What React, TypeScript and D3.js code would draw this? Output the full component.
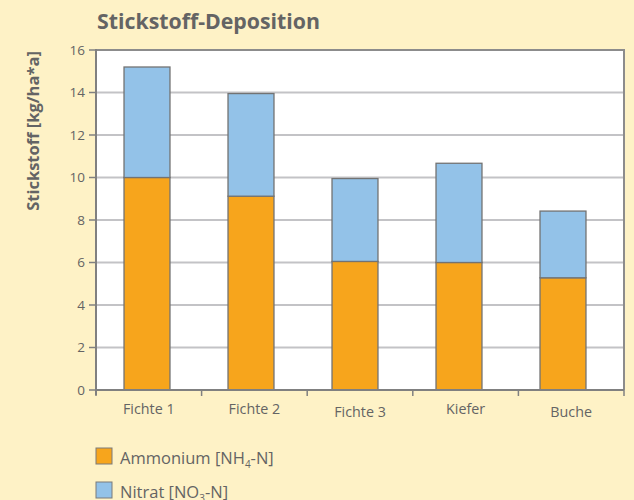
import React from "react";
import * as d3 from "d3";

const categories = ["Fichte 1", "Fichte 2", "Fichte 3", "Kiefer", "Buche"];
const ammonium = [10.0, 9.12, 6.05, 6.0, 5.28];
const nitrat = [5.2, 4.83, 3.9, 4.67, 3.14];
const yTicks = [0, 2, 4, 6, 8, 10, 12, 14, 16];
const labelDy = [0, 0, 3, 0, 3];

const W = 634;
const H = 500;
const BG = "#FEF2C6";
const TEXT = "#646464";
const ORANGE = "#F7A51C";
const BLUE = "#93C2E8";
const FONT = "'Open Sans', 'DejaVu Sans', sans-serif";

export default function App() {
  const left = 96, right = 624, top = 50, bottom = 390;
  const y = d3.scaleLinear().domain([0, 16]).range([bottom, top]);
  const xAxis = d3.scaleBand().domain(categories).range([left, right]).padding(0);
  const xBars = d3.scaleBand().domain(categories).range([95, 615]).paddingInner(0.558).paddingOuter(0.279);

  const stackData = categories.map((c, i) => ({ cat: c, ammonium: ammonium[i], nitrat: nitrat[i] }));
  const stack = d3.stack<any>().keys(["ammonium", "nitrat"])(stackData);
  const colors: Record<string, string> = { ammonium: ORANGE, nitrat: BLUE };

  const ticksX = [...categories.map((c) => xAxis(c)!), right];

  return (
    <svg width={W} height={H} style={{ position: "absolute", left: 0, top: 0, display: "block" }} fontFamily={FONT}>
      <rect x={0} y={0} width={W} height={H} fill={BG} />
      <text x={97} y={29} fontSize={21.3} fontWeight="bold" fill={TEXT}>Stickstoff-Deposition</text>
      <rect x={left} y={top} width={right - left} height={bottom - top} fill="#fff" />
      {yTicks.filter((t) => t > 0 && t < 16).map((t) => (
        <line key={t} x1={left} x2={right} y1={y(t)} y2={y(t)} stroke="#C3C3C6" strokeWidth={2} />
      ))}
      {/* borders */}
      <line x1={left} x2={right} y1={top} y2={top} stroke="#8C8C8C" strokeWidth={2} />
      <line x1={right} x2={right} y1={top - 1} y2={bottom} stroke="#8C8C8C" strokeWidth={2} />
      {stack.map((s) =>
        s.map((d, i) => (
          <rect
            key={s.key + i}
            x={xBars(categories[i])!}
            y={y(d[1])}
            width={xBars.bandwidth()}
            height={y(d[0]) - y(d[1])}
            fill={colors[s.key]}
            stroke="#737373"
            strokeWidth={1.3}
          />
        ))
      )}
      {/* y axis */}
      <line x1={left} x2={left} y1={top - 1} y2={bottom + 5} stroke="#808080" strokeWidth={2} />
      {yTicks.map((t) => (
        <g key={t}>
          <line x1={left - 7} x2={left} y1={y(t)} y2={y(t)} stroke="#808080" strokeWidth={1.5} />
          <text x={left - 11} y={y(t)} dy="0.35em" textAnchor="end" fontSize={13.5} fill={TEXT}>{t}</text>
        </g>
      ))}
      {/* x axis */}
      <line x1={left} x2={right} y1={bottom} y2={bottom} stroke="#808080" strokeWidth={2} />
      {ticksX.map((tx, i) => (
        <line key={i} x1={tx} x2={tx} y1={bottom} y2={bottom + 6} stroke="#808080" strokeWidth={1.5} />
      ))}
      {categories.map((c, i) => (
        <text key={c} x={xAxis(c)! + xAxis.bandwidth() / 2} y={414 + labelDy[i]} textAnchor="middle" fontSize={14.3} fill={TEXT}>{c}</text>
      ))}
      {/* y label */}
      <text transform={`translate(39,131) rotate(-90)`} textAnchor="middle" fontSize={16.5} fontWeight="bold" fill={TEXT}>Stickstoff [kg/ha*a]</text>
      {/* legend */}
      <rect x={96} y={448} width={16} height={16} fill={ORANGE} stroke="#7a7a7a" strokeWidth={1} />
      <text x={120} y={464} fontSize={16.5} fill={TEXT}>
        Ammonium [NH<tspan fontSize={10} dy={4}>4</tspan><tspan dy={-4}>-N]</tspan>
      </text>
      <rect x={96} y={482} width={16} height={16} fill={BLUE} stroke="#7a7a7a" strokeWidth={1} />
      <text x={120} y={498} fontSize={16.5} fill={TEXT}>
        Nitrat [NO<tspan fontSize={10} dy={4}>3</tspan><tspan dy={-4}>-N]</tspan>
      </text>
    </svg>
  );
}
